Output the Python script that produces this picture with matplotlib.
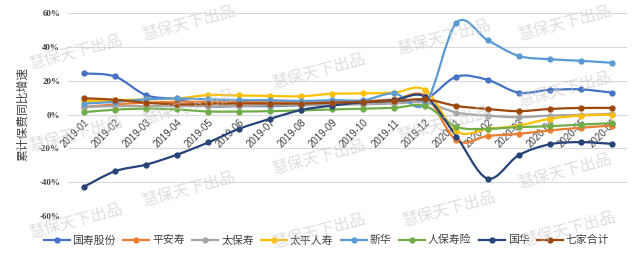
import matplotlib.pyplot as plt
from matplotlib.path import Path
from matplotlib.patches import PathPatch
from matplotlib.lines import Line2D

plt.rcParams["font.family"] = ["Noto Sans CJK SC", "DejaVu Sans"]

# 数据
months = ["2019-01", "2019-02", "2019-03", "2019-04", "2019-05", "2019-06",
          "2019-07", "2019-08", "2019-09", "2019-10", "2019-11", "2019-12",
          "2020-01", "2020-02", "2020-03", "2020-04", "2020-05", "2020-06"]

guoshou = [24.3, 22.5, 11.5, 9.0, 5.0, 5.0, 5.0, 5.5, 6.0, 6.5, 8.0, 9.0,
           22.4, 20.5, 13.0, 14.6, 14.9, 13.0]
pingan = [4.5, 6.0, 7.0, 7.5, 7.5, 7.5, 7.5, 7.5, 8.0, 8.0, 9.0, 11.0,
          -15.3, -12.7, -11.4, -9.4, -7.8, -6.5]
taibao = [4.5, 5.0, 5.0, 5.0, 5.0, 5.0, 5.5, 5.5, 6.0, 6.0, 6.5, 7.0,
          1.2, -0.6, -1.6, -0.6, -0.2, 0.5]
taiping = [8.0, 8.5, 9.0, 9.5, 11.5, 11.3, 11.0, 10.8, 12.3, 12.5, 13.0, 14.5,
           -10.0, -8.5, -6.5, -2.5, -0.6, 0.0]
xinhua = [6.5, 7.5, 9.0, 9.5, 9.0, 8.5, 8.5, 8.0, 8.5, 8.5, 12.5, 6.5,
          54.3, 44.0, 34.7, 32.7, 31.8, 30.6]
renbao = [1.4, 2.9, 3.5, 3.0, 1.8, 1.8, 2.0, 2.5, 3.0, 3.5, 4.0, 5.0,
          -7.2, -8.4, -7.4, -6.9, -5.9, -5.1]
guohua = [-42.7, -33.5, -29.6, -23.7, -16.5, -8.4, -2.5, 2.7, 5.3, 7.3, 8.6, 10.5,
          -13.0, -37.8, -24.1, -17.6, -16.3, -17.3]
qijia = [9.6, 8.8, 7.0, 6.0, 6.3, 6.5, 6.5, 6.5, 7.0, 7.5, 8.0, 9.0,
         5.1, 3.3, 2.0, 3.3, 3.9, 3.9]

series = [
    ("国寿股份", guoshou, "#4472C4"),
    ("平安寿", pingan, "#ED7D31"),
    ("太保寿", taibao, "#A5A5A5"),
    ("太平人寿", taiping, "#FFC000"),
    ("新华", xinhua, "#5B9BD5"),
    ("人保寿险", renbao, "#70AD47"),
    ("国华", guohua, "#264478"),
    ("七家合计", qijia, "#9E480E"),
]


def smooth_path(xs, ys):
    # 类似 Excel 平滑线的贝塞尔曲线
    pts = list(zip(xs, ys))
    verts = [pts[0]]
    codes = [Path.MOVETO]
    n = len(pts)
    for i in range(n - 1):
        p0 = pts[max(i - 1, 0)]
        p1 = pts[i]
        p2 = pts[i + 1]
        p3 = pts[min(i + 2, n - 1)]
        c1 = (p1[0] + (p2[0] - p0[0]) / 6, p1[1] + (p2[1] - p0[1]) / 6)
        c2 = (p2[0] - (p3[0] - p1[0]) / 6, p2[1] - (p3[1] - p1[1]) / 6)
        verts += [c1, c2, p2]
        codes += [Path.CURVE4] * 3
    return Path(verts, codes)


fig = plt.figure(figsize=(6.4, 2.56), dpi=100)
ax = fig.add_axes([0.107, 0.156, 0.873, 0.793])

x = list(range(len(months)))
handles = []
for name, vals, color in series:
    ax.add_patch(PathPatch(smooth_path(x, vals), facecolor="none",
                           edgecolor=color, lw=1.6, zorder=3))
    ax.plot(x, vals, "o", color=color, ms=3.5, zorder=4)
    handles.append(Line2D([], [], color=color, lw=1.6, marker="o", ms=3.5))

ax.set_xlim(-0.5, len(months) - 0.5)
ax.set_ylim(-60, 60)
ax.set_yticks([-60, -40, -20, 0, 20, 40, 60])
ax.set_yticklabels([f"{v}%" for v in [-60, -40, -20, 0, 20, 40, 60]],
                   family="Liberation Serif", fontweight="bold",
                   fontsize=6.5, color="#404040")
ax.grid(axis="y", color="#d9d9d9", lw=0.8)
ax.set_axisbelow(True)

for s in ["top", "right", "left"]:
    ax.spines[s].set_visible(False)
ax.spines["bottom"].set_position(("data", 0))
ax.spines["bottom"].set_color("#d9d9d9")
ax.tick_params(axis="both", length=0)
ax.tick_params(axis="y", pad=6)

ax.set_xticks(x)
ax.set_xticklabels(months, rotation=45, ha="right", rotation_mode="anchor",
                   family="Liberation Sans", fontsize=7, color="#404040")
ax.tick_params(axis="x", pad=2)

fig.text(0.035, 0.555, "累计保费同比增速", rotation=90, ha="center",
         va="center", fontsize=8.5, color="#404040")

fig.legend(handles, [s[0] for s in series], loc="center",
           bbox_to_anchor=(0.51, 0.062), ncol=8, frameon=False,
           fontsize=7.8, handlelength=2.4, handletextpad=0.25,
           columnspacing=0.7, labelcolor="#404040", borderpad=0.2)

# 水印
marks = [(77, 53), (77, 135), (77, 222),
         (190, 24), (190, 108), (190, 190),
         (320, 72), (320, 158), (320, 232),
         (445, 38), (445, 125), (450, 210),
         (566, 24), (566, 90), (566, 172), (570, 230)]
for mx, my in marks:
    fig.text(mx / 640, 1 - my / 256, "慧保天下出品", rotation=15,
             ha="center", va="center", fontsize=11.5, color="#c8c8c8",
             alpha=0.6, zorder=10)

fig.savefig("out.png", dpi=100)
